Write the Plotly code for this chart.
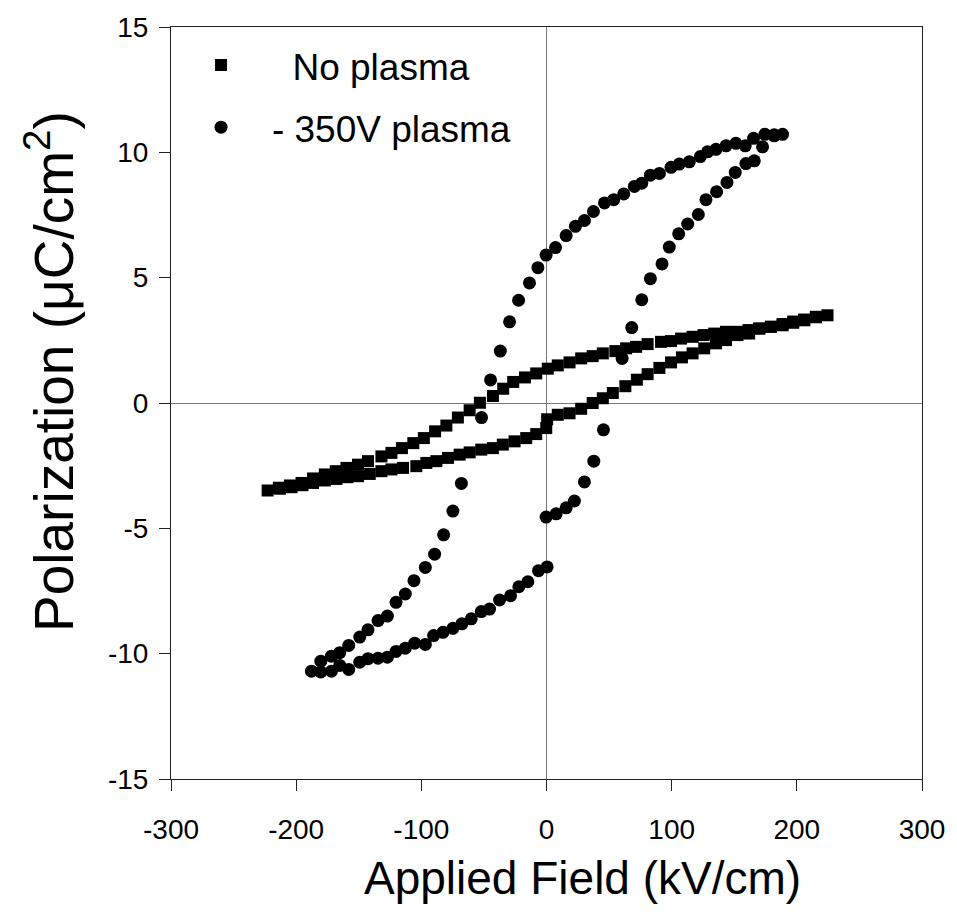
import plotly.graph_objects as go

# No plasma (squares)
sq_x = [224.5, 215.2, 205.9, 197.1, 188.6, 179.3, 170.0, 161.4, 152.6, 143.4, 134.0, 125.5, 116.7, 107.5,
        99.5, 91.5, 80.8, 71.6, 63.6, 55.0, 45.0, 36.9, 27.7, 18.4, 9.0, 1.0, -8.2, -17.2, -26.6, -34.6,
        -42.8, -53.2, -61.4, -70.8, -80.0, -89.0, -98.0, -106.4, -115.5, -123.9, -131.9, -142.6, -150.6,
        -159.8, -168.4, -177.1, -186.5, -195.7, -205.0, -213.8, -222.8,
        -213.0, -203.7, -195.0, -186.5, -177.1, -167.8, -159.0, -150.6, -141.2, -131.9, -123.9, -114.6,
        -104.0, -96.0, -88.0, -78.7, -69.4, -61.4, -52.1, -42.8, -34.9, -25.5, -16.2, -8.2, -0.2, 0.5,
        9.0, 18.4, 27.7, 36.9, 45.0, 53.0, 63.0, 72.2, 80.8, 90.2, 99.5, 108.2, 116.7, 126.0, 135.4,
        143.4, 152.6, 161.9, 170.0, 179.3, 188.6, 197.1, 205.9, 215.2]
sq_y = [3.50, 3.44, 3.30, 3.20, 3.10, 3.04, 2.97, 2.91, 2.84, 2.84, 2.77, 2.71, 2.64, 2.57,
        2.47, 2.44, 2.35, 2.24, 2.18, 2.07, 1.98, 1.87, 1.78, 1.62, 1.50, 1.37, 1.18, 1.02, 0.84, 0.57,
        0.28, 0.01, -0.29, -0.58, -0.90, -1.13, -1.40, -1.60, -1.80, -1.99, -2.13, -2.32, -2.46,
        -2.59, -2.72, -2.85, -3.01, -3.19, -3.29, -3.38, -3.49,
        -3.42, -3.36, -3.28, -3.19, -3.09, -3.03, -2.96, -2.92, -2.83, -2.72, -2.65, -2.59,
        -2.52, -2.39, -2.32, -2.19, -2.06, -1.97, -1.86, -1.80, -1.66, -1.53, -1.40, -1.24, -1.00, -0.65,
        -0.47, -0.41, -0.23, 0.00, 0.19, 0.40, 0.67, 0.93, 1.15, 1.40, 1.62, 1.82, 1.98, 2.18, 2.38,
        2.51, 2.71, 2.77, 2.97, 3.04, 3.15, 3.25, 3.33, 3.42]

# -350V plasma (circles)
ci_x = [188.6, 181.9, 174.5, 165.4, 158.8, 151.3, 143.4, 135.4, 128.7, 122.9, 114.1, 106.1, 99.5, 90.2,
        83.0, 76.1, 70.2, 61.7, 53.7, 46.3, 37.5, 30.3, 23.1, 15.7, 7.2, -0.3, -6.9, -13.6, -22.3, -29.5,
        -36.9, -44.7, -51.9, -68.0, -74.8, -82.2, -89.4, -96.8, -105.9, -112.8, -120.2, -127.1, -134.6,
        -142.6, -149.2, -158.0, -165.2, -171.8, -180.3, -187.8,
        -180.3, -171.8, -165.2, -158.0, -149.2, -142.6, -134.6, -127.1, -120.2, -112.8, -105.3, -96.8,
        -90.2, -82.7, -74.8, -67.6, -60.1, -52.1, -45.5, -37.5, -28.7, -22.1, -14.9, -6.4, 0.5, -0.3,
        7.7, 15.7, 22.3, 30.3, 37.8, 45.5, 60.4, 68.1, 76.1, 83.0, 92.3, 98.1, 105.6, 112.8, 121.3,
        127.4, 135.9, 144.2, 150.8, 159.3, 166.0, 172.6, 181.9]
ci_y = [10.72, 10.70, 10.72, 10.56, 10.26, 10.36, 10.26, 10.12, 10.02, 9.83, 9.62, 9.53, 9.40, 9.16,
        9.09, 8.77, 8.64, 8.34, 8.11, 7.98, 7.64, 7.28, 7.05, 6.68, 6.20, 5.90, 5.40, 4.79, 4.10, 3.24,
        2.07, 0.92, -0.58, -3.21, -4.31, -5.26, -6.03, -6.56, -7.09, -7.62, -7.95, -8.50, -8.68,
        -9.05, -9.34, -9.67, -9.96, -10.10, -10.30, -10.70,
        -10.73, -10.70, -10.47, -10.63, -10.34, -10.20, -10.18, -10.14, -9.91, -9.78, -9.58, -9.63,
        -9.28, -9.15, -8.99, -8.81, -8.61, -8.32, -8.22, -7.86, -7.69, -7.33, -7.13, -6.69, -6.54, -4.55,
        -4.42, -4.18, -3.91, -3.15, -2.32, -1.07, 1.78, 3.01, 4.12, 4.96, 5.55, 6.22, 6.75, 7.14, 7.52,
        8.11, 8.43, 8.80, 9.20, 9.55, 9.66, 10.22, 10.66]

x_ticks = [-300, -200, -100, 0, 100, 200, 300]
y_ticks = [-15, -10, -5, 0, 5, 10, 15]

x_title = "Applied Field (kV/cm)"
y_title = "Polarization (\u03bcC/cm<sup>2</sup>)"

FONT = "Liberation Sans, Arial, sans-serif"

fig = go.Figure()
fig.add_trace(go.Scatter(x=sq_x, y=sq_y, mode="markers", name="\u00a0\u00a0\u00a0\u00a0\u00a0No plasma",
                         legendgroup="a",
                         marker=dict(symbol="square", size=12, color="black")))
fig.add_trace(go.Scatter(x=ci_x, y=ci_y, mode="markers", name="\u00a0\u00a0\u00a0- 350V plasma",
                         legendgroup="b",
                         marker=dict(symbol="circle", size=13, color="black")))

axis_common = dict(
    showline=True, linecolor="#222222", linewidth=1, mirror=True,
    ticks="outside", ticklen=11, tickcolor="#222222", tickwidth=1,
    showgrid=False, zeroline=True, zerolinecolor="#777777", zerolinewidth=1,
    tickfont=dict(family=FONT, size=28, color="black"),
)

fig.update_layout(
    width=957, height=923,
    margin=dict(l=171, r=34, t=24, b=144),
    paper_bgcolor="white", plot_bgcolor="white",
    font=dict(family=FONT, color="black"),
    xaxis=dict(range=[-300, 300], tickvals=x_ticks, ticktext=[str(v) for v in x_ticks],
               ticklabelstandoff=14, **axis_common),
    yaxis=dict(range=[-15, 15], tickvals=y_ticks, ticktext=[str(v) for v in y_ticks],
               ticklabelstandoff=5, **axis_common),
    legend=dict(x=0.04, y=0.99, xanchor="left", yanchor="top",
                font=dict(family=FONT, size=37, color="black"),
                bgcolor="rgba(0,0,0,0)", tracegroupgap=11, itemsizing="trace"),
    showlegend=True,
    annotations=[
        dict(text=x_title, xref="paper", yref="paper", x=0.548, y=-0.131,
             xanchor="center", yanchor="middle", showarrow=False,
             font=dict(family=FONT, size=46, color="black")),
        dict(text=y_title, xref="paper", yref="paper", x=-0.162, y=0.5417,
             xanchor="center", yanchor="middle", showarrow=False, textangle=-90,
             font=dict(family=FONT, size=55, color="black")),
    ],
)

fig.write_html("out.html")
